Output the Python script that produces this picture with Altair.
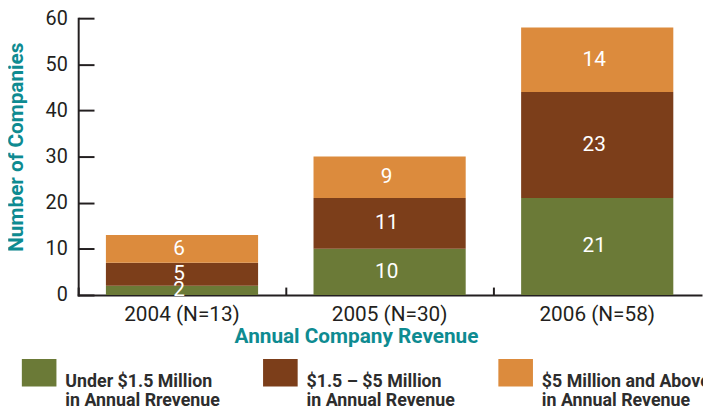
import altair as alt
import pandas as pd

years = ["2004 (N=13)", "2005 (N=30)", "2006 (N=58)"]
categories = [
    "Under $1.5 Million\nin Annual Rrevenue",
    "$1.5 – $5 Million\nin Annual Revenue",
    "$5 Million and Above\nin Annual Revenue",
]
under_15 = [2, 10, 21]
between_15_5 = [5, 11, 23]
above_5 = [6, 9, 14]
colors = ["#6b7a37", "#7c3e1a", "#dc8b3d"]
y_ticks = [0, 10, 20, 30, 40, 50, 60]

rows = []
for yi, year in enumerate(years):
    base = 0
    for ci, (cat, series) in enumerate(zip(categories, [under_15, between_15_5, above_5])):
        v = series[yi]
        rows.append({"year": year, "category": cat, "order": ci, "count": v, "mid": base + v / 2})
        base += v
df = pd.DataFrame(rows)

ink = "#231f20"
teal = "#0e8b91"

x_axis = alt.Axis(
    title="Annual Company Revenue",
    labelAngle=0,
    labelFontSize=21,
    labelColor=ink,
    labelPadding=17,
    domainColor=ink,
    domainWidth=2,
    domainCap="square",
    tickColor=ink,
    tickWidth=2,
    tickSize=alt.ExprRef("-8"),
    bandPosition=0,
    grid=False,
    titleColor=teal,
    titleFontSize=21,
    titleFontWeight="bold",
    titleX=281,
    titleY=48,
    titleBaseline="alphabetic",
)
y_axis = alt.Axis(
    title="Number of Companies",
    values=y_ticks,
    labelFontSize=20,
    labelColor=ink,
    labelPadding=27,
    domainColor=ink,
    domainWidth=2,
    domainCap="square",
    tickColor=ink,
    tickWidth=2,
    tickSize=alt.ExprRef("-16"),
    grid=False,
    titleColor=teal,
    titleFontSize=21,
    titleFontWeight="bold",
    titleX=-56,
    titleY=130,
    titleBaseline="alphabetic",
)

x_enc = alt.X("year:N", sort=years, scale=alt.Scale(paddingInner=0, paddingOuter=0), axis=x_axis)
y_scale = alt.Scale(domain=[0, 60], nice=False)

base = alt.Chart(df)

bars = base.mark_bar(width=alt.RelativeBandSize(0.733)).encode(
    x=x_enc,
    y=alt.Y("count:Q", stack="zero", scale=y_scale, axis=y_axis),
    color=alt.Color(
        "category:N",
        sort=categories,
        scale=alt.Scale(domain=categories, range=colors),
        legend=alt.Legend(
            title=None,
            orient="none",
            legendX=-57,
            legendY=350,
            direction="horizontal",
            columns=3,
            columnPadding=43,
            padding=0,
            symbolType="M-1,-1.32H1V0.28H-1Z",
            symbolSize=1225,
            symbolStrokeWidth=0,
            symbolOpacity=1,
            labelOffset=9,
            labelFontSize=18,
            labelFontWeight="bold",
            labelColor="#2d2d2d",
            labelLimit=400,
            labelExpr="split(datum.label, '\\n')",
        ),
    ),
    order=alt.Order("order:Q"),
)

labels = base.mark_text(color="white", fontSize=21, dx=-3).encode(
    x=x_enc,
    y=alt.Y("mid:Q", scale=y_scale, axis=y_axis),
    text="count:Q",
)

chart = (
    alt.layer(bars, labels)
    .properties(
        width=630,
        height=280,
        autosize=alt.AutoSizeParams(type="none"),
        padding={"top": 8, "left": 71, "right": 2, "bottom": 110},
    )
    .configure(font="Roboto")
    .configure_view(strokeWidth=0)
)

chart.save("out.html", embed_options={"renderer": "svg", "actions": False})
